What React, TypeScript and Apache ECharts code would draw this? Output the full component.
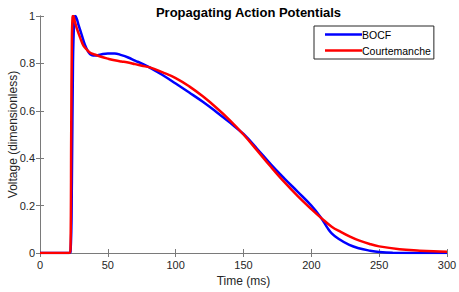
import React, { useEffect, useRef } from "react";
import * as echarts from "echarts";

const xTicks = [0, 50, 100, 150, 200, 250, 300];
const yTicks = [0, 0.2, 0.4, 0.6, 0.8, 1];

const bocfTime = [0, 20, 22.5, 23.5, 24.3, 25.2, 26, 27, 28.5, 30.5, 33, 35.5, 38, 41, 45, 50, 55, 60, 65, 70, 76, 80, 90, 100, 110, 120, 130, 140, 150, 160, 170, 180, 190, 200, 207, 212, 215, 220, 228, 235, 243, 250, 260, 300];
const bocfVolt = [0, 0, 0.005, 0.3, 0.8, 0.98, 1.0, 0.99, 0.96, 0.925, 0.88, 0.85, 0.835, 0.833, 0.838, 0.842, 0.842, 0.835, 0.825, 0.812, 0.797, 0.785, 0.752, 0.715, 0.677, 0.638, 0.595, 0.55, 0.502, 0.44, 0.375, 0.315, 0.258, 0.2, 0.15, 0.105, 0.083, 0.06, 0.034, 0.02, 0.01, 0.004, 0.001, 0];

const courTime = [0, 21.5, 22.5, 23, 23.5, 24, 24.5, 25.5, 27, 29.5, 32, 34.5, 37, 40, 45, 50, 55, 60, 64, 70, 75, 81, 90, 100, 110, 120, 130, 140, 150, 160, 170, 180, 190, 200, 207.6, 215, 222, 228.5, 235, 243, 250, 265, 280, 290, 300];
const courVolt = [0, 0, 0.02, 0.5, 0.9, 0.995, 1.0, 0.98, 0.95, 0.91, 0.875, 0.858, 0.845, 0.838, 0.828, 0.82, 0.813, 0.808, 0.805, 0.797, 0.79, 0.783, 0.763, 0.738, 0.703, 0.661, 0.613, 0.56, 0.5, 0.433, 0.365, 0.3, 0.24, 0.185, 0.146, 0.111, 0.088, 0.069, 0.053, 0.038, 0.028, 0.016, 0.01, 0.007, 0.005];

const seriesNames = ["BOCF", "Courtemanche"];

export default function App() {
  const ref = useRef<HTMLDivElement>(null);
  useEffect(() => {
    document.body.style.margin = "0";
    const chart = echarts.init(ref.current!, null, { renderer: "svg" });
    const font = "'Liberation Sans', Arial, sans-serif";
    const axisColor = "#7a7a7a";
    const textColor = "#262626";
    const bocf = bocfTime.map((t, i) => [t, bocfVolt[i]]);
    const cour = courTime.map((t, i) => [t, courVolt[i]]);
    chart.setOption({
      animation: false,
      textStyle: { fontFamily: font },
      title: {
        text: "Propagating Action Potentials",
        left: 243.5,
        textAlign: "center",
        top: 1,
        textStyle: { fontSize: 13, fontWeight: "bold", color: "#000", fontFamily: font },
      },
      legend: {
        orient: "vertical",
        left: 314,
        top: 26,
        data: seriesNames,
        icon: "rect",
        itemWidth: 37,
        itemHeight: 2.5,
        itemGap: 5,
        padding: [3, 3, 3, 11],
        borderColor: "#262626",
        borderWidth: 1,
        textStyle: { fontSize: 10.5, color: "#000", fontFamily: font, padding: [0, 0, 0, -5] },
      },
      grid: { left: 40, right: 12, top: 16, bottom: 39, outerBoundsMode: "none", containLabel: false },
      xAxis: [
        {
          type: "value",
          min: 0,
          max: 300,
          interval: 50,
          name: "Time (ms)",
          nameLocation: "middle",
          nameGap: 22,
          nameMoveOverlap: false,
          nameTextStyle: { fontSize: 12, color: textColor, fontFamily: font },
          axisLine: { lineStyle: { color: axisColor, width: 1 } },
          axisTick: { inside: true, length: 4, lineStyle: { color: axisColor } },
          axisLabel: { fontSize: 11, color: textColor, margin: 6, fontFamily: font,
            formatter: (v: number) => (xTicks.includes(v) ? String(v) : "") },
          splitLine: { show: false },
        },
        {
          type: "value",
          position: "top",
          min: 0,
          max: 300,
          interval: 50,
          axisLine: { show: true, lineStyle: { color: axisColor, width: 1 } },
          axisTick: { inside: true, length: 4, lineStyle: { color: axisColor } },
          axisLabel: { show: false },
          splitLine: { show: false },
        },
      ],
      yAxis: [
        {
          type: "value",
          min: 0,
          max: 1,
          interval: 0.2,
          name: "Voltage (dimensionless)",
          nameLocation: "middle",
          nameGap: 21,
          nameMoveOverlap: false,
          nameTextStyle: { fontSize: 12, color: textColor, fontFamily: font },
          axisLine: { show: true, lineStyle: { color: axisColor, width: 1 } },
          axisTick: { show: true, inside: true, length: 4, lineStyle: { color: axisColor } },
          axisLabel: { fontSize: 11, color: textColor, margin: 5, fontFamily: font,
            formatter: (v: number) => {
              const m = yTicks.find((t) => Math.abs(t - v) < 1e-9);
              return m === undefined ? "" : String(m);
            } },
          splitLine: { show: false },
        },
        {
          type: "value",
          position: "right",
          min: 0,
          max: 1,
          interval: 0.2,
          axisLine: { show: true, lineStyle: { color: axisColor, width: 1 } },
          axisTick: { show: true, inside: true, length: 4, lineStyle: { color: axisColor } },
          axisLabel: { show: false },
          splitLine: { show: false },
        },
      ],
      series: [
        {
          name: seriesNames[0],
          type: "line",
          data: bocf,
          showSymbol: false,
          symbol: "none",
          smooth: 0.4,
          lineStyle: { color: "#0000ff", width: 2.5 },
          itemStyle: { color: "#0000ff" },
          z: 2,
        },
        {
          name: seriesNames[1],
          type: "line",
          data: cour,
          showSymbol: false,
          symbol: "none",
          smooth: 0.4,
          lineStyle: { color: "#ff0000", width: 2.5 },
          itemStyle: { color: "#ff0000" },
          z: 3,
        },
      ],
    });
    return () => chart.dispose();
  }, []);
  return <div ref={ref} style={{ width: 459, height: 292 }} />;
}
